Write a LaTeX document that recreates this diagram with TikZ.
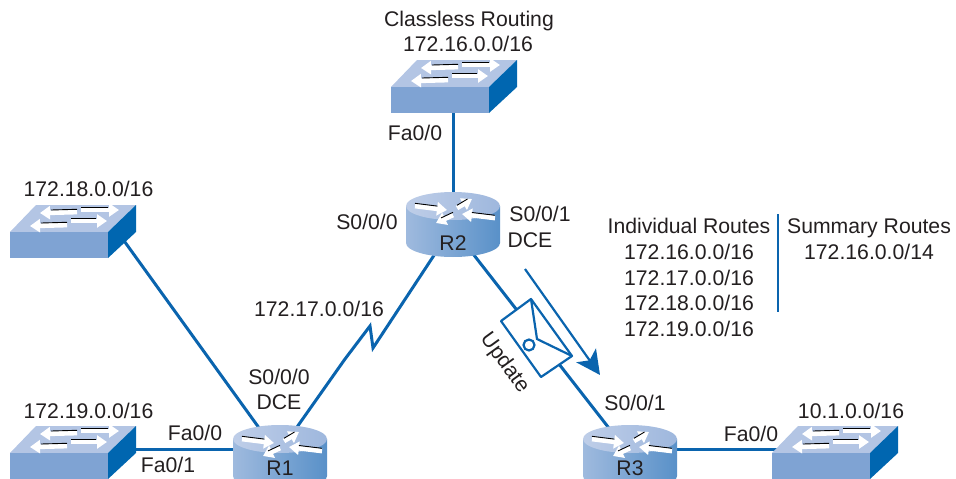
\documentclass[tikz,border=0pt]{standalone}
\usepackage{fontspec}
\setmainfont{Liberation Sans}
\usetikzlibrary{arrows.meta}
\definecolor{linkblue}{HTML}{0A64AE}
\definecolor{swtop}{HTML}{B3C5E4}
\definecolor{swfront}{HTML}{7FA3D3}
\definecolor{swside}{HTML}{0066B0}
\definecolor{txt}{HTML}{231F20}
\newcommand{\flowarrow}[4]{%
  \draw[white,line width=4.8pt,-{Triangle[length=10pt,width=13pt]}] (#1,#2) -- (#3,#4);
  \draw[black,line width=.9pt] (#1,#2-2.7) -- ({#1+.7*(#3-#1)},{#2-2.7+.7*(#4-#2)});
}
\tikzset{
  x=1pt,y=-1pt,
  lbl/.style={font=\fontsize{21.2}{24}\selectfont,text=txt,inner sep=0pt,text height=14.8pt,text depth=0pt},
  link/.style={draw=linkblue,line width=3pt},
  thin link/.style={draw=linkblue,line width=2.2pt},
  switchdev/.pic={
    \fill[swtop] (0,0) -- (26,-27) -- (126,-27) -- (98,0) -- cycle;
    \fill[swfront] (0,0) rectangle (98,26);
    \fill[swside] (98,0) -- (126,-27) -- (126,0) -- (98,26) -- cycle;
    \flowarrow{67}{-20}{30}{-19}
    \flowarrow{71}{-22}{109}{-22}
    \flowarrow{57}{-7}{20}{-6}
    \flowarrow{61}{-11}{97}{-11}
  },
  routerdev/.pic={
    \shade[left color=swfront!75!white,middle color=swfront!80!white,right color=swfront!70!swside]
      (-47,0) -- (-47,37) .. controls (-47,44.7) and (-26,51) .. (0,51)
      .. controls (26,51) and (47,44.7) .. (47,37) -- (47,0) -- cycle;
    \shade[left color=swtop!85!white,right color=swtop!60!swfront]
      (0,0) ellipse [x radius=47,y radius=14];
    \flowarrow{-38}{0}{-6}{4}
    \flowarrow{4}{2}{19}{-7}
    \flowarrow{42}{12}{9}{8}
    \flowarrow{0}{9}{-17}{17}
  }
}
\begin{document}
\begin{tikzpicture}
\useasboundingbox (0,0) rectangle (956,479);
% link end points
\coordinate (swtoplink) at (453,100);
\coordinate (sw18link) at (122,238);
\coordinate (sw19link) at (120,449);
\coordinate (sw10link) at (790,449);
\coordinate (r1a) at (262,432);
\coordinate (r1b) at (293.5,432);
\coordinate (r1c) at (280,449);
\coordinate (r2top) at (453,206);
\coordinate (r2a) at (437.5,250);
\coordinate (r2b) at (470,250);
\coordinate (r3a) at (612,432);
\coordinate (r3c) at (630,449);
\coordinate (z1) at (345,359);
\coordinate (z2) at (370,326);
\coordinate (z3) at (373,348);
\coordinate (e1) at (501,321);
\coordinate (e2) at (531,299);
\coordinate (e3) at (572,356);
\coordinate (e4) at (541,377);
\coordinate (ef) at (537,339);
\coordinate (ar1) at (525,269);
\coordinate (ar2) at (600,375);
\coordinate (bar1) at (778,214);
\coordinate (bar2) at (778,312);
% connectors
\draw[link] (swtoplink) -- (r2top);
\draw[link] (sw18link) -- (r1a);
\draw[link] (sw19link) -- (r1c);
\draw[link] (r3c) -- (sw10link);
\draw[link,line join=miter] (r2a) -- (z3) -- (z2) -- (z1) -- (r1b);
\draw[link] (r2b) -- (r3a);
\draw[thin link] (bar1) -- (bar2);
% devices
\pic at (391,87) {switchdev};
\pic at (10,232) {switchdev};
\pic at (10,453) {switchdev};
\pic at (772,453) {switchdev};
\pic at (453,206) {routerdev};
\pic at (280,439) {routerdev};
\pic at (630,439) {routerdev};
% envelope
\draw[thin link,fill=white,line join=round] (e1) -- (e2) -- (e3) -- (e4) -- cycle;
\draw[thin link] (e2) -- (ef) -- (e3);
\draw[thin link] (529,345) circle [radius=5.5];
\draw[thin link,-{Stealth[length=24pt,width=24pt,inset=6pt]}] (ar1) -- (ar2);
% labels
\node[lbl] (t1) at (469,19) {Classless Routing};
\node[lbl] (t2) at (468,44) {172.16.0.0/16};
\node[lbl] (t3) at (415,133) {Fa0/0};
\node[lbl] (t4) at (88.5,189) {172.18.0.0/16};
\node[lbl] (t5) at (367,222) {S0/0/0};
\node[lbl] (t6) at (540,214) {S0/0/1};
\node[lbl] (t7) at (530,240) {DCE};
\node[lbl] (t8) at (689,226) {Individual Routes};
\node[lbl] (t9) at (869,226) {Summary Routes};
\node[lbl] (t10) at (689,252) {172.16.0.0/16};
\node[lbl] (t11) at (689,278) {172.17.0.0/16};
\node[lbl] (t12) at (689,303) {172.18.0.0/16};
\node[lbl] (t13) at (689,329) {172.19.0.0/16};
\node[lbl] (t14) at (869,252) {172.16.0.0/14};
\node[lbl] (t15) at (319,309) {172.17.0.0/16};
\node[lbl] (t16) at (279,377) {S0/0/0};
\node[lbl] (t17) at (279,402) {DCE};
\node[lbl] (t18) at (88.5,411) {172.19.0.0/16};
\node[lbl] (t19) at (195,433) {Fa0/0};
\node[lbl] (t20) at (168,465) {Fa0/1};
\node[lbl] (t21) at (635,403) {S0/0/1};
\node[lbl] (t22) at (751,434) {Fa0/0};
\node[lbl] (t23) at (851,411) {10.1.0.0/16};
\node[lbl,rotate=-54] (t24) at (506,362) {Update};
\node[lbl] (r1) at (280,468) {R1};
\node[lbl] (r2) at (453,243) {R2};
\node[lbl] (r3) at (630,468) {R3};
\end{tikzpicture}
\end{document}
